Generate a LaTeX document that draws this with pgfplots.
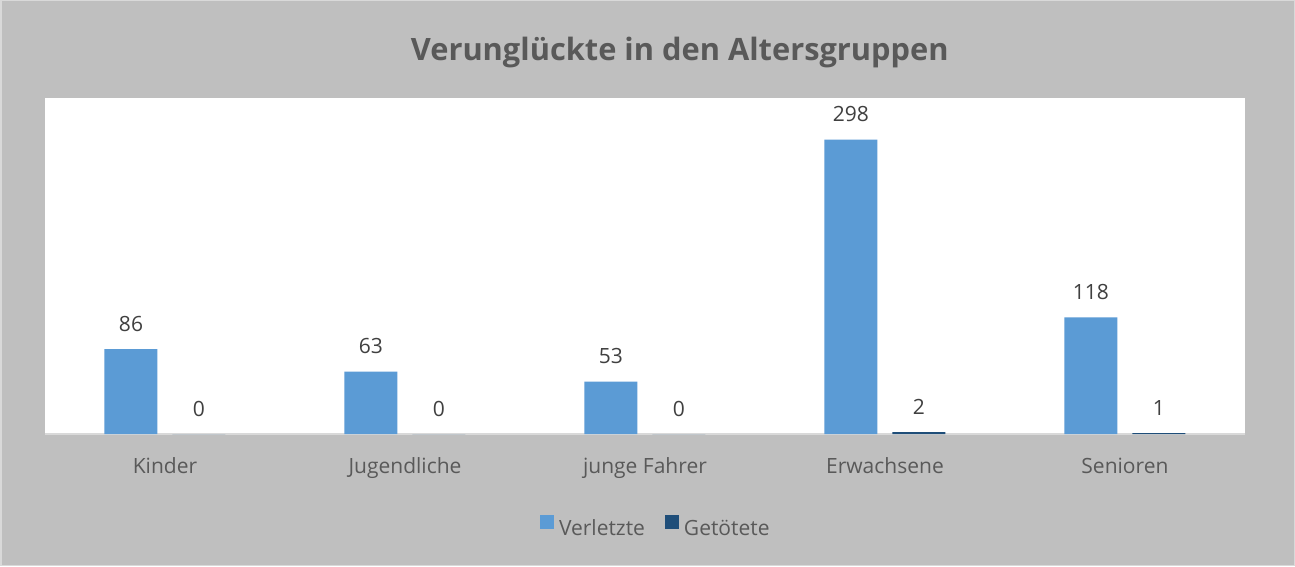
\documentclass[border=0pt]{standalone}
\usepackage{pgfplots}
\pgfplotsset{compat=1.18}
\usepackage{fontspec}
\setmainfont{Open Sans}
\definecolor{bgc}{HTML}{BFBFBF}
\definecolor{brd}{HTML}{D9D9D9}
\definecolor{bluec}{HTML}{5B9BD5}
\definecolor{darkc}{HTML}{1F4E79}
\definecolor{txt}{HTML}{595959}
\definecolor{lab}{HTML}{404040}
\begin{document}
\begin{tikzpicture}
\fill[bgc] (0,0) rectangle (1295pt,566pt);
\draw[brd, line width=1.5pt] (0.75pt,0.75pt) rectangle (1294.25pt,565.25pt);
\begin{axis}[
  at={(45pt,132pt)}, anchor=south west,
  scale only axis, width=1200pt, height=336pt,
  axis background/.style={fill=white},
  ybar=15pt, bar width=53pt,
  xmin=-0.5, xmax=4.5, ymin=0, ymax=340,
  xtick=data,
  xticklabels={Kinder,Jugendliche,junge Fahrer,Erwachsene,Senioren},
  major tick length=0pt,
  axis x line*=bottom, axis y line=none,
  x axis line style={brd, line width=1.5pt, -},
  xticklabel style={font=\fontsize{21}{25}\selectfont, text=txt, anchor=base, yshift=-39pt},
  ytick=\empty,
  /pgf/number format/assume math mode=true,
  nodes near coords,
  every node near coord/.append style={font=\fontsize{21}{25}\selectfont, text=lab, anchor=base, yshift=18pt},
  title={\bfseries Verunglückte in den Altersgruppen},
  title style={font=\fontsize{30.8}{36}\selectfont, text=txt, at={(axis description cs:0.529,1.0952)}, anchor=base},
  legend columns=2,
  legend style={draw=none, fill=none, at={(axis description cs:0.509,-0.277)}, anchor=center,
    font=\fontsize{21}{25}\selectfont, text=txt,
    /tikz/every odd column/.append style={column sep=3pt},
    /tikz/every even column/.append style={column sep=18pt}},
  legend image code/.code={\fill[#1] (0pt,-1pt) rectangle (14pt,13pt);},
  clip=false,
]
\addplot[fill=bluec, draw=none] coordinates {(0,86) (1,63) (2,53) (3,298) (4,118)};
\addplot[fill=darkc, draw=none] coordinates {(0,0) (1,0) (2,0) (3,2) (4,1)};
\legend{Verletzte,Getötete}
\end{axis}
\pgfresetboundingbox
\useasboundingbox (0,0) rectangle (1295pt,566pt);
\end{tikzpicture}
\end{document}
